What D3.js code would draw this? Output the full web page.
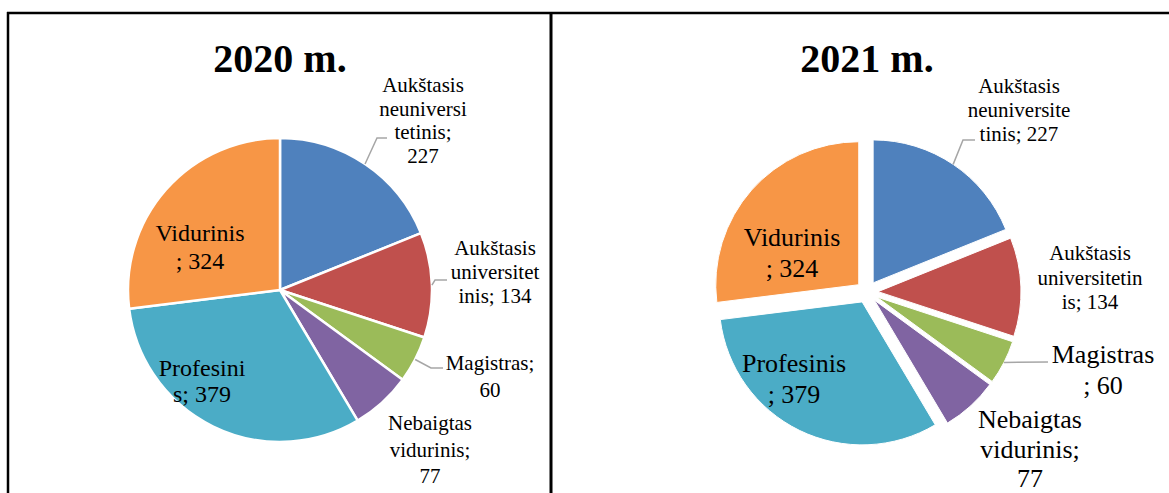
<!DOCTYPE html>
<html lang="lt">
<head>
<meta charset="UTF-8">
<title>2020 m. / 2021 m.</title>
<script src="https://d3js.org/d3.v7.min.js"></script>
<style>
    body { margin: 0; background: #fff; }
    svg { display: block; }
    .leader { fill: none; stroke: #a6a6a6; stroke-width: 1.5px; }
    .frame { stroke: #000; }
</style>
</head>
<body>
<svg width="1169" height="493"></svg>
<script>
// data
const categories = ["Aukštasis neuniversitetinis", "Aukštasis universitetinis", "Magistras",
                    "Nebaigtas vidurinis", "Profesinis", "Vidurinis"];
const values2020 = [227, 134, 60, 77, 379, 324];
const values2021 = [227, 134, 60, 77, 379, 324];
const titles = ["2020 m.", "2021 m."];
const colors = ["#4F81BD", "#C0504D", "#9BBB59", "#8064A2", "#4BACC6", "#F79646"];

const serif = "'Liberation Serif', 'Times New Roman', 'DejaVu Serif', serif";

// layout for each chart (label places are relative to pie centre)
const charts = [
    {
        values: values2020, title: titles[0],
        cx: 280, cy: 290, r: 152, explode: 0, stroke: 2.5,
        labels: [
            {breaks: [10, 20, 29], x: 143, y: -198, size: 21, lh: 23.5, leader: [[97, -152], [107, -152]]},
            {breaks: [10, 21], x: 215, y: -35, size: 21, lh: 24, leader: [[155, -10], [167, -10]]},
            {breaks: [10], x: 210, y: 80, size: 21, lh: 27, leader: [[151, 78], [163, 78]]},
            {breaks: [10, 21], x: 150, y: 140, size: 21, lh: 26.5},
            {breaks: [9], x: -78, y: 86, size: 24, lh: 26},
            {breaks: [9], x: -80, y: -49, size: 24, lh: 27.5}
        ]
    },
    {
        values: values2021, title: titles[1],
        cx: 867, cy: 292, r: 143, explode: 11, stroke: 1,
        labels: [
            {breaks: [10, 22], x: 152, y: -199, size: 21, lh: 24, leader: [[96, -152], [108, -152]]},
            {breaks: [10, 23], x: 223, y: -32, size: 21, lh: 24.5},
            {breaks: [9], x: 236, y: 71, size: 26, lh: 31, leader: [[181, 70]]},
            {breaks: [10, 21], x: 163, y: 136, size: 26, lh: 29.5},
            {breaks: [10], x: -73, y: 80, size: 26, lh: 31},
            {breaks: [9], x: -75, y: -46, size: 26, lh: 30.5}
        ]
    }
];

const svg = d3.select("svg");

// table frame
const frame = svg.append("g").attr("class", "frame");
frame.append("line").attr("x1", 7).attr("x2", 1169).attr("y1", 13).attr("y2", 13).attr("stroke-width", 2.5);
frame.append("line").attr("x1", 8).attr("x2", 8).attr("y1", 12).attr("y2", 493).attr("stroke-width", 2.5);
frame.append("line").attr("x1", 551).attr("x2", 551).attr("y1", 12).attr("y2", 493).attr("stroke-width", 3);

function splitLines(text, breaks) {
    const out = [];
    let prev = 0;
    breaks.concat([text.length]).forEach(b => {
        out.push(text.slice(prev, b).trim());
        prev = b;
    });
    return out;
}

charts.forEach(c => {
    const g = svg.append("g").attr("transform", `translate(${c.cx},${c.cy})`);

    const pie = d3.pie().sort(null).value(d => d)(c.values);
    const arc = d3.arc().innerRadius(0).outerRadius(c.r);
    const mid = d => (d.startAngle + d.endAngle) / 2;
    const shift = d => [Math.sin(mid(d)) * c.explode, -Math.cos(mid(d)) * c.explode];

    g.selectAll("path.slice")
        .data(pie)
      .enter().append("path")
        .attr("class", "slice")
        .attr("d", arc)
        .attr("transform", d => `translate(${shift(d)})`)
        .attr("fill", (d, i) => colors[i])
        .attr("stroke", "#fff")
        .attr("stroke-width", c.stroke)
        .attr("stroke-linejoin", "round");

    // leader lines start on the slice edge at its middle angle
    pie.forEach((d, i) => {
        const L = c.labels[i];
        if (!L.leader) return;
        const a = mid(d);
        const p0 = [Math.sin(a) * (c.r + c.explode), -Math.cos(a) * (c.r + c.explode)];
        g.append("path")
            .attr("class", "leader")
            .attr("d", d3.line()([p0].concat(L.leader)));
    });

    // data labels
    pie.forEach((d, i) => {
        const L = c.labels[i];
        const text = `${categories[i]}; ${c.values[i]}`;
        const t = g.append("text")
            .attr("text-anchor", "middle")
            .attr("fill", "#000")
            .style("font-family", serif)
            .style("font-size", L.size + "px");
        splitLines(text, L.breaks).forEach((ln, k) => {
            t.append("tspan")
                .attr("x", L.x)
                .attr("y", L.y + k * L.lh)
                .text(ln);
        });
    });

    svg.append("text")
        .attr("x", c.cx)
        .attr("y", 72)
        .attr("text-anchor", "middle")
        .style("font-family", serif)
        .style("font-weight", "bold")
        .style("font-size", "40px")
        .text(c.title);
});
</script>
</body>
</html>
